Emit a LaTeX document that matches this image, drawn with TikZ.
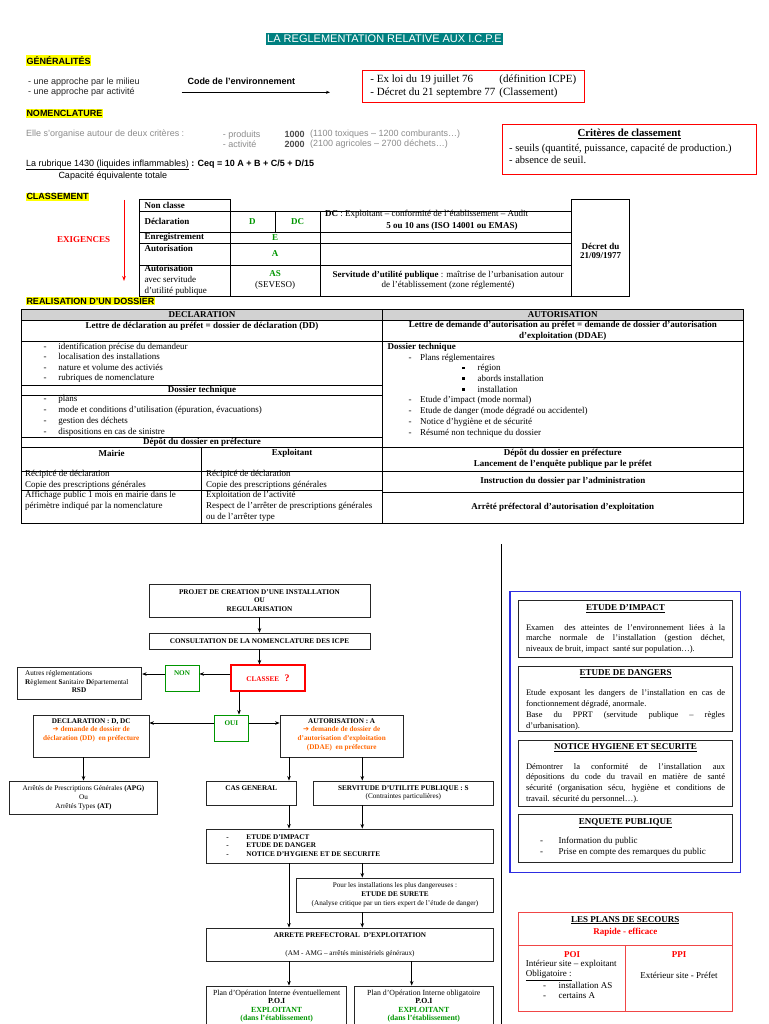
\documentclass[tikz,border=0pt]{standalone}
\usepackage{fontspec}
\setmainfont{Liberation Serif}
\newfontfamily\arial{Liberation Sans}
\newfontfamily\dejavu{DejaVu Sans}
\usetikzlibrary{arrows.meta,positioning,calc}
\definecolor{icpeteal}{RGB}{0,128,128}
\definecolor{icpeyellow}{RGB}{255,255,0}
\definecolor{icpered}{RGB}{255,0,0}
\definecolor{secred}{RGB}{240,70,70}
\definecolor{icpegreen}{RGB}{0,150,0}
\definecolor{icpeorange}{RGB}{255,102,0}
\definecolor{hdrgray}{RGB}{210,210,210}
\definecolor{panelblue}{RGB}{45,45,225}
\newcommand\fsz[2]{\fontsize{#1}{#2}\selectfont}
\newcommand\orarrow{{\dejavu ➔}}
\newcommand\sqbullet{\rule[1.6pt]{2.6pt}{2.6pt}}

\begin{document}
\begin{tikzpicture}[x=1pt,y=-1pt,
 section/.style={fill=icpeyellow,font=\arial\bfseries\fsz{9}{10},inner xsep=0.3pt,inner ysep=1pt,anchor=west},
 atext/.style={font=\arial\fsz{9}{10},inner sep=0,anchor=west,text=black!85},
 tab/.style={line width=0.8pt},
 cell/.style={font=\fsz{9}{10.5},inner sep=0},
 cellb/.style={font=\bfseries\fsz{9}{10.5},inner sep=0},
 fbox/.style={draw=black!85,line width=0.9pt,inner sep=0},
 ftext/.style={font=\bfseries\fsz{7.2}{8.8},align=center,inner sep=0},
 fnorm/.style={font=\fsz{7.2}{8.8},align=center,inner sep=0},
 arr/.style={-{Stealth[length=4.5pt,width=3.6pt]},line width=0.9pt},
 sidebox/.style={draw=black!85,line width=0.9pt,minimum width=214.4pt,inner sep=0},
 sidetitle/.style={font=\bfseries\fsz{9}{11},inner sep=0},
 sidebody/.style={text width=199pt,align=justify,inner sep=0}]
\fill[white] (0,0) rectangle (768,1024);
\useasboundingbox (0,0) rectangle (768,1024);

% Title
\node[fill=icpeteal,text=white,font=\arial\fsz{11}{12},inner xsep=1.5pt,inner ysep=1pt,minimum height=12pt] (title) at (384.5,39) {LA REGLEMENTATION RELATIVE AUX I.C.P.E};

% Generalites
\node[section] (gen) at (26,60.5) {GÉNÉRALITÉS};
\node[atext,align=left] (approche) at (28,86.7) {- une approche par le milieu\\- une approche par activité};
\node[atext,font=\arial\bfseries\fsz{9}{10},text=black] (code) at (187.3,81.7) {Code de l’environnement};
\coordinate (codefrom) at (181.7,92.3);
\coordinate (codeto) at (330,92.3);
\draw[-{Stealth[length=4pt,width=3pt]},line width=0.6pt] (codefrom) -- (codeto);
\node[draw=icpered,line width=0.9pt,minimum width=221.3pt,minimum height=32pt,inner sep=0,font=\fsz{11}{12.7}] (lois) at (473.3,86.7)
 {\begin{tabular}{@{}p{129pt}@{}l@{}}- Ex loi du 19 juillet 76&(définition ICPE)\\- Décret du 21 septembre 77&(Classement)\end{tabular}};

% Nomenclature
\node[section] (nomen) at (26,113.6) {NOMENCLATURE};
\node[atext,text=black!45] (orga) at (26,134.3) {Elle s’organise autour de deux critères :};
\node[atext,text=black!45,align=left,font=\arial\fsz{9}{9.7}] (criteres) at (222.7,139.2) {- produits\\- activité};
\node[atext,text=black!70,align=left,font=\arial\bfseries\fsz{9}{9.7}] (codes) at (284.3,139.2) {1000\\2000};
\node[atext,text=black!45,align=left,font=\arial\fsz{9}{9.7}] (exemples) at (310,139.2) {(1100 toxiques – 1200 comburants…)\\(2100 agricoles – 2700 déchets…)};
\node[draw=icpered,line width=0.9pt,minimum width=253.3pt,minimum height=50pt] (critbox) at (629.3,149.3) {};
\node[font=\bfseries\fsz{10.8}{12},inner sep=0] (crittitle) at (629.3,134) {\underline{Critères de classement}};
\node[font=\fsz{10.5}{11.7},inner sep=0,anchor=west,align=left] (critlist) at (509,154.2) {- seuils (quantité, puissance, capacité de production.)\\- absence de seuil.};
\node[atext,text=black] (rubrique) at (26,165) {\underline{La rubrique 1430 (liquides inflammables)} \textbf{: Ceq = 10 A + B + C/5 + D/15}};
\node[atext,text=black] (capacite) at (58.3,175.7) {Capacité équivalente totale};

% Classement
\node[section] (classement) at (26,196.7) {CLASSEMENT};
\coordinate (exitop) at (124,200);
\coordinate (exibot) at (124,281);
\draw[icpered,line width=1pt,-{Stealth[length=5pt,width=3.6pt]}] (exitop) -- (exibot);
\node[font=\bfseries\fsz{9}{10},text=icpered,inner sep=0] (exigences) at (83.7,240) {EXIGENCES};
\draw[tab] (139.3,296) -- (139.3,199.3) -- (230,199.3) -- (230,296);
\draw[tab] (139.3,296) -- (629.3,296);
\draw[tab] (571.7,199.3) rectangle (629.3,296);
\foreach \y in {211,232,243.3,265}
  \draw[tab] (139.3,\y) -- (571.7,\y);
\draw[tab] (275.3,211) -- (275.3,232);
\draw[tab] (320,211) -- (320,296);
\node[cellb,anchor=west] (nonclasse) at (144.3,205.2) {Non classe};
\node[cellb,anchor=west] (declaration) at (144.3,221.5) {Déclaration};
\node[cellb,anchor=west] (enreg) at (144.3,237.6) {Enregistrement};
\node[cellb,anchor=west] (autoris) at (144.3,248.5) {Autorisation};
\node[cell,anchor=west,align=left,font=\fsz{9}{10.8}] (autservit) at (144.3,280.2) {\textbf{Autorisation}\\avec servitude\\d’utilité publique};
\node[cellb,text=icpegreen] (regd) at (252.3,221.5) {D};
\node[cellb,text=icpegreen] (regdc) at (297.7,221.5) {DC};
\node[cellb,text=icpegreen] (rege) at (275,237.6) {E};
\node[cellb,text=icpegreen] (rega) at (275,254) {A};
\node[cell,align=center,font=\fsz{9}{11.4}] (regas) at (275,280) {\textcolor{icpegreen}{\textbf{AS}}\\(SEVESO)};
\node[cell,anchor=west] (dcnote) at (325,214.2) {\textbf{DC} : Exploitant – conformité de l’établissement – Audit};
\node[cellb] (dcaudit) at (452,226.3) {5 ou 10 ans (ISO 14001 ou EMAS)};
\node[cell,align=center,font=\fsz{9}{10.7}] (servnote) at (448,280.4) {\textbf{Servitude d’utilité publique} : maîtrise de l’urbanisation autour\\de l’établissement (zone réglementé)};
\node[cellb,align=center,font=\bfseries\fsz{9}{9.5}] (decret) at (600.5,251) {Décret du\\21/09/1977};

% Realisation d'un dossier
\node[section] (realisation) at (26,301) {REALISATION D’UN DOSSIER};
\fill[hdrgray] (21.7,309) rectangle (743.3,320.5);
\draw[tab] (21.7,309) rectangle (743.3,523);
\draw[tab,line width=1.6pt] (21.7,320.5) -- (743.3,320.5);
\draw[tab] (382.3,309) -- (382.3,523);
\foreach \y in {341.7,447,471}
  \draw[tab] (21.7,\y) -- (743.3,\y);
\foreach \y in {385,395,437,490}
  \draw[tab] (21.7,\y) -- (382.3,\y);
\draw[tab] (382.3,492) -- (743.3,492);
\draw[tab] (201.7,447) -- (201.7,523);
\node[cellb] (hdecl) at (202,314.6) {DECLARATION};
\node[cellb] (hautor) at (562.8,314.6) {AUTORISATION};
\node[cellb] (ldecl) at (202,326) {Lettre de déclaration au préfet = dossier de déclaration (DD)};
\node[cellb,align=center] (lautor) at (562.8,330.7) {Lettre de demande d’autorisation au préfet = demande de dossier d’autorisation\\d’exploitation (DDAE)};
\node[cell,anchor=north west] (ddlist) at (43.3,341.8) {\begin{tabular}{@{}p{15pt}@{}l@{}}-&identification précise du demandeur\\-&localisation des installations\\-&nature et volume des activiés\\-&rubriques de nomenclature\end{tabular}};
\node[cellb] (dtdecl) at (202,390) {Dossier technique};
\node[cell,anchor=north west,font=\fsz{9}{11}] (dtlist) at (43.3,393.2) {\begin{tabular}{@{}p{15pt}@{}l@{}}-&plans\\-&mode et conditions d’utilisation (épuration, évacuations)\\-&gestion des déchets\\-&dispositions en cas de sinistre\end{tabular}};
\node[cellb] (depotdecl) at (202,442.2) {Dépôt du dossier en préfecture};
\node[cellb] (mairie) at (111.7,453.5) {Mairie};
\node[cellb] (exploitant) at (292,453.5) {Exploitant};
\node[cell,anchor=west,align=left,font=\fsz{9}{11}] (mairie1) at (25,479.5) {Récipicé de déclaration\\Copie des prescriptions générales};
\node[cell,anchor=west,align=left,font=\fsz{9}{11.5}] (mairie2) at (25,501) {Affichage public 1 mois en mairie dans le\\périmètre indiqué par la nomenclature};
\node[cell,anchor=west,align=left,font=\fsz{9}{11}] (exploit1) at (206,479.5) {Récipicé de déclaration\\Copie des prescriptions générales};
\node[cell,anchor=west,align=left,font=\fsz{9}{11}] (exploit2) at (206,506.5) {Exploitation de l’activité\\Respect de l’arrêter de prescriptions générales\\ou de l’arrêter type};
\node[cell,anchor=north west,font=\fsz{9}{10.7}] (dtautor) at (387.3,341.8) {\begin{tabular}{@{}p{21pt}@{}p{11.7pt}@{}p{41.7pt}@{}p{15.6pt}@{}l@{}}
\multicolumn{5}{@{}l@{}}{\textbf{Dossier technique}}\\
&-&\multicolumn{3}{@{}l@{}}{Plans réglementaires}\\
&&&\sqbullet&région\\
&&&\sqbullet&abords installation\\
&&&\sqbullet&installation\\
&-&\multicolumn{3}{@{}l@{}}{Etude d’impact (mode normal)}\\
&-&\multicolumn{3}{@{}l@{}}{Etude de danger (mode dégradé ou accidentel)}\\
&-&\multicolumn{3}{@{}l@{}}{Notice d’hygiène et de sécurité}\\
&-&\multicolumn{3}{@{}l@{}}{Résumé non technique du dossier}
\end{tabular}};
\node[cellb,align=center] (depotautor) at (562.8,459) {Dépôt du dossier en préfecture\\Lancement de l’enquête publique par le préfet};
\node[cellb] (instruction) at (562.8,481) {Instruction du dossier par l’administration};
\node[cellb] (arreteautor) at (562.8,507) {Arrêté préfectoral d’autorisation d’exploitation};

% Separator
\coordinate (septop) at (501.5,544);
\coordinate (sepbot) at (501.5,1024);
\draw[line width=1.6pt] (septop) -- (sepbot);

% Flowchart
\node[fbox,ftext,minimum width=221pt,minimum height=33pt] (projet) at (259.5,600.5) {PROJET DE CREATION D’UNE INSTALLATION\\OU\\REGULARISATION};
\node[fbox,ftext,minimum width=221pt,minimum height=16pt] (consult) at (259.5,641) {CONSULTATION DE LA NOMENCLATURE DES ICPE};
\node[fbox,ftext,draw=icpered,line width=1.2pt,minimum width=74pt,minimum height=26pt,text=icpered] (classee) at (268,678) {CLASSEE\ \ \ {\fsz{10}{10}?}};
\node[fbox,draw=icpegreen,minimum width=34pt,minimum height=26pt] (non) at (182,678) {};
\node[ftext,text=icpegreen,below=6.3pt of non.north] (nontxt) {NON};
\node[fbox,minimum width=124pt,minimum height=32pt] (autres) at (79.7,683) {};
\node[fnorm,align=left,anchor=west] (autrestxt) at (25,678.2) {Autres réglementations\\\textbf{R}èglement \textbf{S}anitaire \textbf{D}épartemental};
\node[ftext] (rsd) at (79,690.5) {RSD};
\node[fbox,draw=icpegreen,minimum width=34pt,minimum height=26pt] (oui) at (231.3,728) {};
\node[ftext,text=icpegreen,below=5.9pt of oui.north] (ouitxt) {OUI};
\node[fbox,minimum width=115.3pt,minimum height=42pt] (decl) at (91.3,736) {};
\node[ftext,below=3.5pt of decl.north] (decltxt) {DECLARATION : D, DC\\\textcolor{icpeorange}{\orarrow\ demande de dossier de}\\\textcolor{icpeorange}{déclaration (DD)\ \ en préfecture}};
\node[fbox,minimum width=123.3pt,minimum height=42pt] (aut) at (341.7,736) {};
\node[ftext,below=3.5pt of aut.north] (auttxt) {AUTORISATION : A\\\textcolor{icpeorange}{\orarrow\ demande de dossier de}\\\textcolor{icpeorange}{d’autorisation d’exploitation}\\\textcolor{icpeorange}{(DDAE)\ \ en préfecture}};
\node[fbox,fnorm,minimum width=148.4pt,minimum height=33pt] (apg) at (83.5,797.5) {Arrêtés de Prescriptions Générales \textbf{(APG)}\\Ou\\Arrêtés Types \textbf{(AT)}};
\node[fbox,minimum width=89.3pt,minimum height=24pt] (cas) at (251.3,793) {};
\node[ftext,below=4.6pt of cas.north] (castxt) {CAS GENERAL};
\node[fbox,minimum width=180pt,minimum height=24pt] (serv) at (403.3,793) {};
\node[ftext,below=4.6pt of serv.north] (servtxt) {SERVITUDE D’UTILITE PUBLIQUE : S\\\mdseries(Contraintes particulières)};
\node[fbox,minimum width=286.6pt,minimum height=34pt] (etude) at (350,846) {};
\node[ftext,anchor=west,font=\bfseries\fsz{7.2}{8.5}] (etudetxt) at ([xshift=20pt]etude.west) {\begin{tabular}{@{}p{20pt}@{}l@{}}-&ETUDE D’IMPACT\\-&ETUDE DE DANGER\\-&NOTICE D’HYGIENE ET DE SECURITE\end{tabular}};
\node[fbox,fnorm,minimum width=196.6pt,minimum height=34pt] (surete) at (395,895) {Pour les installations les plus dangereuses :\\\textbf{ETUDE DE SURETE}\\(Analyse critique par un tiers expert de l’étude de danger)};
\node[fbox,ftext,minimum width=286.6pt,minimum height=33pt] (arrete) at (350,944.5) {ARRETE PREFECTORAL\ \ D’EXPLOITATION\\[9.2pt]\mdseries(AM - AMG – arrêtés ministériels généraux)};
\node[fbox,minimum width=140pt,minimum height=48pt] (poi1) at (276.7,1010) {};
\node[fnorm,font=\fsz{7.8}{8.6},below=4pt of poi1.north] (poi1txt) {Plan d’Opération Interne éventuellement\\\textbf{P.O.I}\\\textcolor{icpegreen}{\textbf{EXPLOITANT}}\\\textcolor{icpegreen}{\textbf{(dans l’établissement)}}};
\node[fbox,minimum width=139pt,minimum height=48pt] (poi2) at (423.8,1010) {};
\node[fnorm,font=\fsz{7.8}{8.6},below=4pt of poi2.north] (poi2txt) {Plan d’Opération Interne obligatoire\\\textbf{P.O.I}\\\textcolor{icpegreen}{\textbf{EXPLOITANT}}\\\textcolor{icpegreen}{\textbf{(dans l’établissement)}}};

% Flowchart connectors
\coordinate (colO) at (239,0);
\coordinate (colA) at (289,0);
\coordinate (colB) at (362.3,0);
\coordinate (colC) at (411.7,0);
\draw[arr] (projet.south) -- (consult.north);
\draw[arr] (consult.south) -- (consult.south |- classee.north);
\draw[arr] ([yshift=4pt]classee.west) -- ([yshift=4pt]non.east);
\draw[arr] ([yshift=4pt]non.west) -- ([yshift=4pt]non.west -| autres.east);
\draw[arr] (classee.south -| colO) -- (oui.north -| colO);
\draw[arr] ([yshift=5pt]oui.west) -- ([yshift=5pt]oui.west -| decl.east);
\draw[arr] ([yshift=5pt]oui.east) -- ([yshift=5pt]oui.east -| aut.west);
\draw[arr] (decl.south -| apg.north) -- (apg.north);
\draw[arr] (aut.south -| colA) -- (cas.north -| colA);
\draw[arr] (aut.south -| colB) -- (serv.north -| colB);
\draw[arr] (cas.south -| colA) -- (etude.north -| colA);
\draw[arr] (serv.south -| colB) -- (etude.north -| colB);
\draw[arr] (etude.south -| colB) -- (surete.north -| colB);
\draw[arr] (etude.south -| colA) -- (arrete.north -| colA);
\draw[arr] (surete.south -| colB) -- (arrete.north -| colB);
\draw[arr] (arrete.south -| colA) -- (poi1.north -| colA);
\draw[arr] (arrete.south -| colC) -- (poi2.north -| colC);

% Right panel
\node[draw=panelblue,line width=1.3pt,minimum width=230.3pt,minimum height=280.6pt,inner sep=0] (panel) at (625.2,732) {};
\node[sidebox,minimum height=57pt] (impact) at (625.5,629.2) {};
\node[sidetitle] (impactt) at (625.5,609) {\underline{ETUDE D’IMPACT}};
\node[sidebody,font=\fsz{8.5}{10.5}] (impactb) at (625.5,638.5) {\tolerance=9999\relax\parindent=0pt Examen\ \ des atteintes de l’environnement liées à la\linebreak marche normale de l’installation (gestion déchet,\linebreak niveaux de bruit, impact\ \ santé sur population…).};
\node[sidebox,minimum height=65.7pt] (danger) at (625.5,698.8) {};
\node[sidetitle] (dangert) at (625.5,674) {\underline{ETUDE DE DANGERS}};
\node[sidebody,font=\fsz{8.5}{11}] (dangerb) at (625.5,709.5) {\tolerance=9999\relax\parindent=0pt Etude exposant les dangers de l’installation en cas de\linebreak fonctionnement dégradé, anormale.\par Base du PPRT (servitude publique – règles\linebreak d’urbanisation).};
\node[sidebox,minimum height=66pt] (notice) at (625.5,773) {};
\node[sidetitle] (noticet) at (625.5,748) {\underline{NOTICE HYGIENE ET SECURITE}};
\node[sidebody,font=\fsz{8.5}{10.7}] (noticeb) at (625.5,783) {\tolerance=9999\relax\parindent=0pt Démontrer la conformité de l’installation aux\linebreak dépositions du code du travail en matière de santé\linebreak sécurité (organisation sécu, hygiène et conditions de\linebreak travail. sécurité du personnel…).};
\node[sidebox,minimum height=48.7pt] (enquete) at (625.5,838.3) {};
\node[sidetitle] (enquetet) at (625.5,823) {\underline{ENQUETE PUBLIQUE}};
\node[font=\fsz{9}{11},inner sep=0,anchor=west] (enqueteb) at (540,846.5) {\begin{tabular}{@{}p{18.3pt}@{}l@{}}-&Information du public\\-&Prise en compte des remarques du public\end{tabular}};

% Plans de secours
\node[draw=secred,line width=1pt,minimum width=214pt,minimum height=98.7pt,inner sep=0] (plans) at (625.3,961.7) {};
\coordinate (plansmid) at (0,945.7);
\coordinate (plansdiv) at (625,945.7);
\draw[secred,line width=1pt] (plans.west |- plansmid) -- (plans.east |- plansmid);
\draw[secred,line width=1pt] (plansdiv) -- (plansdiv |- plans.south);
\node[font=\bfseries\fsz{9}{12},inner sep=0,align=center] (planst) at (625.3,926) {\underline{LES PLANS DE SECOURS}\\\textcolor{icpered}{Rapide - efficace}};
\node[font=\bfseries\fsz{9}{10},text=icpered,inner sep=0] (poit) at (572,954.5) {POI};
\node[font=\fsz{9}{10.4},inner sep=0,anchor=west] (poib) at (525.7,980.5) {\begin{tabular}{@{}p{17.3pt}@{}p{15.3pt}@{}l@{}}\multicolumn{3}{@{}l@{}}{Intérieur site – exploitant}\\\multicolumn{3}{@{}l@{}}{\underline{Obligatoire :}}\\&-&installation AS\\&-&certains A\end{tabular}};
\node[font=\bfseries\fsz{9}{10},text=icpered,inner sep=0] (ppit) at (679,954.5) {PPI};
\node[font=\fsz{9}{10},inner sep=0] (ppib) at (679,975) {Extérieur site - Préfet};
\end{tikzpicture}
\end{document}
